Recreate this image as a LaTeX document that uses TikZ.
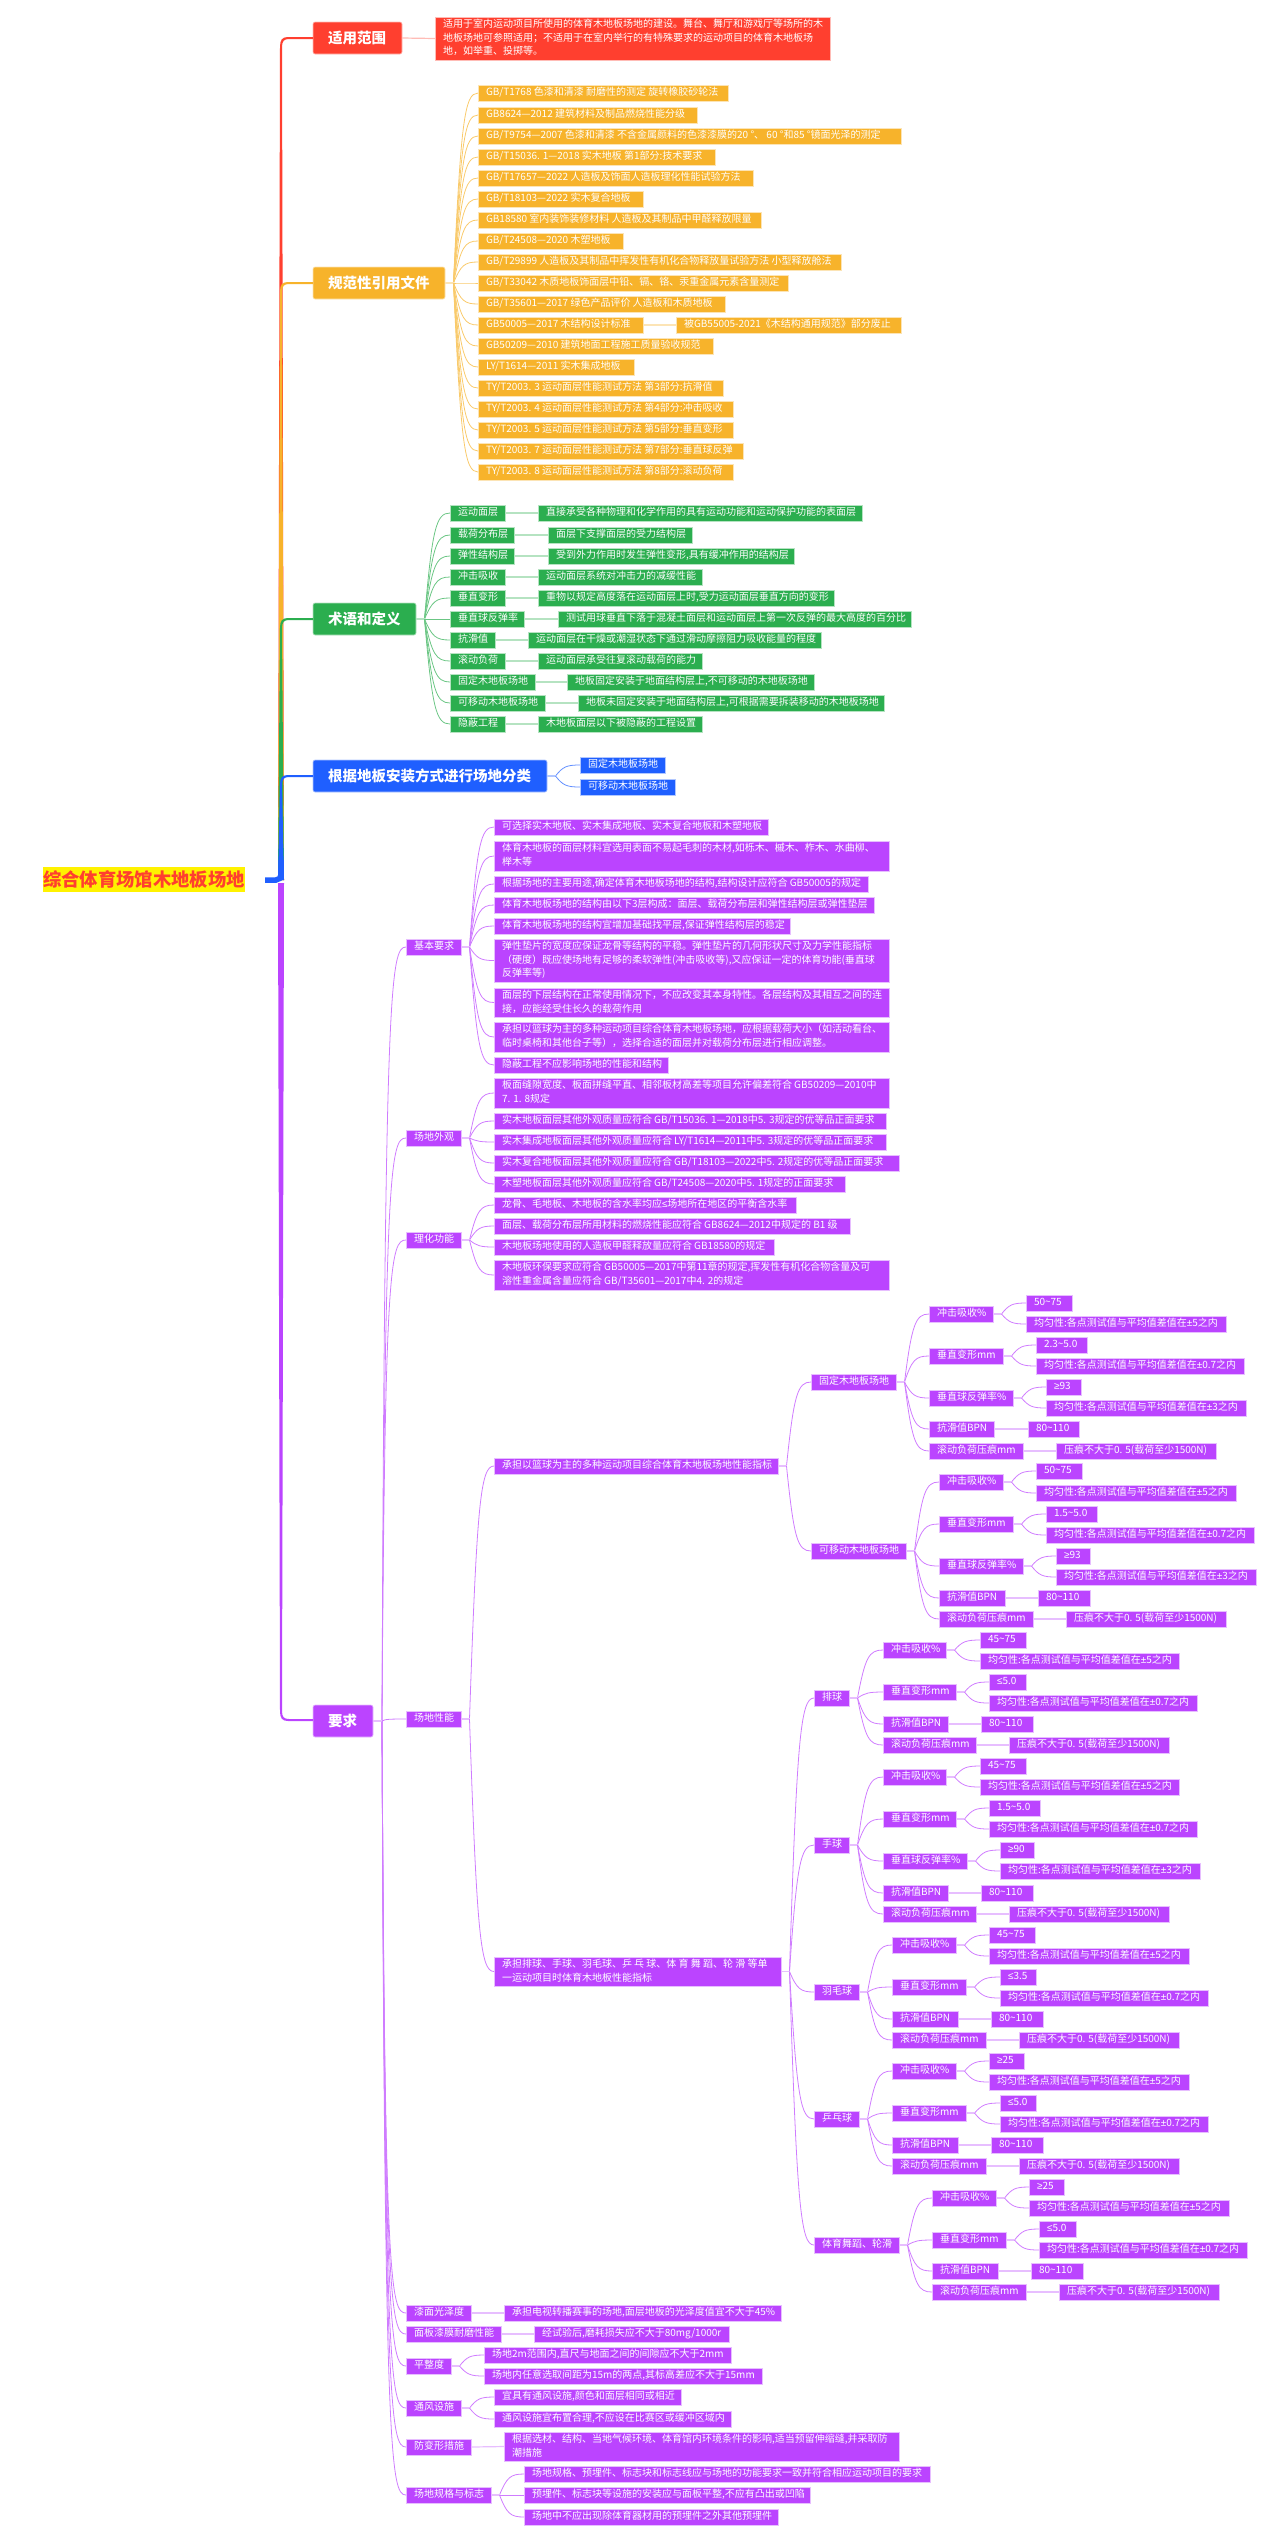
\documentclass[tikz,border=0pt]{standalone}
\usepackage{fontspec}
\setmainfont{Noto Sans CJK SC}
\newfontfamily\latf{Liberation Sans}
\usetikzlibrary{calc}
\definecolor{tred}{HTML}{FF3F2F}
\definecolor{torg}{HTML}{F7B32B}
\definecolor{tgrn}{HTML}{2BAE4F}
\definecolor{tblu}{HTML}{1F5FFF}
\definecolor{tpur}{HTML}{BB44FF}
\colorlet{cmain}{tred}\colorlet{clight}{tred!35!white}\colorlet{cfan}{tred!70!white}
\newcommand\setc[1]{\colorlet{cmain}{#1}\colorlet{clight}{#1!35!white}\colorlet{cfan}{#1!70!white}}
\tikzset{
  leaf/.style={fill=cmain,draw=clight,line width=.7pt,text=white,outer sep=0pt,inner ysep=0pt,inner xsep=8pt,font=\fontsize{10}{13.7}\selectfont},
  mainbox/.style={fill=cmain,draw=clight,line width=.6pt,rounded corners=2pt,text=white,outer sep=0pt,inner ysep=0pt,inner xsep=15pt,align=left,font=\fontsize{14.5}{16}\selectfont\bfseries},
  titlebox/.style={fill=yellow,text=tred,outer sep=0pt,inner sep=0pt,font=\fontsize{18.3}{20}\selectfont\bfseries},
  stubl/.style={draw=clight,line width=1.2pt},
  fanl/.style={draw=cfan,line width=.8pt}
}
\newcommand\bx[6]{%
  \pgfmathsetmacro\bw{#4-#2}\pgfmathsetmacro\bh{#5-#3}\pgfmathsetmacro\tw{#4-#2-16}%
  \node[leaf,anchor=north west,minimum width=\bw pt,minimum height=\bh pt] (#1) at (#2,#3) {\hbox to \tw pt{\begin{tabular}[c]{@{}l@{}}#6\end{tabular}\hss}};}
\newcommand\rw[5]{\bx{#1}{#2}{#3}{#4}{#3+16}{#5}}
\newcommand\mb[6]{%
  \pgfmathsetmacro\bw{#4-#2}\pgfmathsetmacro\bh{#5-#3}\pgfmathsetmacro\tw{#4-#2-30}%
  \node[mainbox,anchor=north west,minimum width=\bw pt,minimum height=\bh pt,text width=\tw pt] (#1) at (#2,#3) {#6};}
\newcommand\fanto[2]{%
  \draw[stubl] (#1.east) -- ++(8.5pt,0);
  \draw[fanl] let \p1=(#1.east),\p2=(#2.west),\n1={\x1+8.5pt},\n2={\x2-\x1-8.5pt},\n3={\y2-\y1} in
    (\n1,\y1) .. controls ({\n1+0.3*\n2},{\y1+0.85*\n3}) and ({\n1+0.45*\n2},\y2) .. (\x2,\y2);}
\newcommand\lk[2]{\draw[stubl] (#1.east) -- (#2.west);}
\newcommand\wirefive[2]{\foreach \kk in {1,2,3,4,5}{\fanto{#1}{#2\kk}}\foreach \kk in {1,2,3}{\fanto{#2\kk}{#2\kk v}\fanto{#2\kk}{#2\kk u}}\lk{#24}{#24v}\lk{#25}{#25v}}
\newcommand\wirefour[2]{\foreach \kk in {1,2,4,5}{\fanto{#1}{#2\kk}}\foreach \kk in {1,2}{\fanto{#2\kk}{#2\kk v}\fanto{#2\kk}{#2\kk u}}\lk{#24}{#24v}\lk{#25}{#25v}}
\newcommand\trunkup[2]{\fill[#1] let \p1=(#2.west),\p0=(rootend) in
  (278pt,\y0) -- (280pt,\y1-9pt) .. controls (280pt,\y1-2pt) and (282pt,\y1+1pt) .. (288pt,\y1+1pt) -- (\x1,\y1+1pt) -- (\x1,\y1-1pt) -- (289pt,\y1-1pt) .. controls (284pt,\y1-1pt) and (282pt,\y1-3pt) .. (282pt,\y1-9pt) -- (284pt,\y0) -- cycle;}
\newcommand\pmq{{\latf ±}}
\newcommand\gqq{{\latf ≥}}
\newcommand\lqq{{\latf ≤}}
\newcommand\tfive{均匀性:各点测试值与平均值差值在\pmq 5之内}
\newcommand\tseven{均匀性:各点测试值与平均值差值在\pmq 0.7之内}
\newcommand\tthree{均匀性:各点测试值与平均值差值在\pmq 3之内}
\newcommand\tpress{压痕不大于0. 5(载荷至少1500N)}
\newcommand\tld{\char"7E\relax}
\begin{document}
\begin{tikzpicture}[x=1pt,y=-1pt]
\useasboundingbox (0,0) rectangle (1280,2541);
% root
\node[titlebox,anchor=north west,minimum width=202pt,minimum height=25pt] (root) at (43,867) {综合体育场馆木地板场地};
\coordinate (rootend) at (265,880);
% main boxes
\setc{tred}\mb{A}{313}{22}{402}{54}{适用范围}
\setc{torg}\mb{B}{313}{267}{445}{299}{规范性引用文件}
\setc{tgrn}\mb{C}{313}{603}{416}{635}{术语和定义}
\setc{tblu}\mb{D}{313}{760}{547}{792}{根据地板安装方式进行场地分类}
\setc{tpur}\mb{E}{313}{1705}{373}{1737}{要求}
% trunk
\trunkup{tred}{A}\trunkup{torg}{B}\trunkup{tgrn}{C}\trunkup{tblu}{D}
\draw[tblu,line width=5.5pt,rounded corners=5pt] (rootend) -- (281,880) -- (281,860);
\fill[tpur] let \p1=(E.west) in (278,883) -- (284,883) -- (282,1711) .. controls (282,1717) and (284,1719) .. (289,1719) -- (\x1,1719) -- (\x1,1721) -- (288,1721) .. controls (282,1721) and (280,1718) .. (280,1711) -- cycle;
% A
\setc{tred}
\bx{a1}{435}{17}{830}{60}{适用于室内运动项目所使用的体育木地板场地的建设。舞台、舞厅和游戏厅等场所的木\\地板场地可参照适用；不适用于在室内举行的有特殊要求的运动项目的体育木地板场\\地，如举重、投掷等。}
\lk{A}{a1}
% B
\setc{torg}
\rw{b1}{478}{85}{728}{GB/T1768 色漆和清漆 耐磨性的测定 旋转橡胶砂轮法}
\rw{b2}{478}{107}{697}{GB8624—2012 建筑材料及制品燃烧性能分级}
\rw{b3}{478}{128}{901}{GB/T9754—2007 色漆和清漆 不含金属颜料的色漆漆膜的20 °、 60 °和85 °镜面光泽的测定}
\rw{b4}{478}{149}{715}{GB/T15036. 1—2018 实木地板 第1部分:技术要求}
\rw{b5}{478}{170}{753}{GB/T17657—2022 人造板及饰面人造板理化性能试验方法}
\rw{b6}{478}{191}{643}{GB/T18103—2022 实木复合地板}
\rw{b7}{478}{212}{761}{GB18580 室内装饰装修材料 人造板及其制品中甲醛释放限量}
\rw{b8}{478}{233}{623}{GB/T24508—2020 木塑地板}
\rw{b9}{478}{254}{841}{GB/T29899 人造板及其制品中挥发性有机化合物释放量试验方法 小型释放舱法}
\rw{b10}{478}{275}{788}{GB/T33042 木质地板饰面层中铅、镉、铬、汞重金属元素含量测定}
\rw{b11}{478}{296}{725}{GB/T35601—2017 绿色产品评价 人造板和木质地板}
\rw{b12}{478}{317}{643}{GB50005—2017 木结构设计标准}
\rw{b12x}{676}{317}{901}{被GB55005-2021《木结构通用规范》部分废止}
\rw{b13}{478}{338}{713}{GB50209—2010 建筑地面工程施工质量验收规范}
\rw{b14}{478}{359}{634}{LY/T1614—2011 实木集成地板}
\rw{b15}{478}{380}{723}{TY/T2003. 3 运动面层性能测试方法 第3部分:抗滑值}
\rw{b16}{478}{401}{733}{TY/T2003. 4 运动面层性能测试方法 第4部分:冲击吸收}
\rw{b17}{478}{422}{733}{TY/T2003. 5 运动面层性能测试方法 第5部分:垂直变形}
\rw{b18}{478}{443}{743}{TY/T2003. 7 运动面层性能测试方法 第7部分:垂直球反弹}
\rw{b19}{478}{464}{733}{TY/T2003. 8 运动面层性能测试方法 第8部分:滚动负荷}
\foreach \kk in {1,...,19}{\fanto{B}{b\kk}}
\lk{b12}{b12x}
% C
\setc{tgrn}
\rw{c1}{450}{505}{505}{运动面层}\rw{c1d}{538}{505}{862}{直接承受各种物理和化学作用的具有运动功能和运动保护功能的表面层}
\rw{c2}{450}{527}{514}{载荷分布层}\rw{c2d}{548}{527}{692}{面层下支撑面层的受力结构层}
\rw{c3}{450}{548}{514}{弹性结构层}\rw{c3d}{548}{548}{794}{受到外力作用时发生弹性变形,具有缓冲作用的结构层}
\rw{c4}{450}{569}{505}{冲击吸收}\rw{c4d}{538}{569}{702}{运动面层系统对冲击力的减缓性能}
\rw{c5}{450}{590}{505}{垂直变形}\rw{c5d}{538}{590}{834}{重物以规定高度落在运动面层上时,受力运动面层垂直方向的变形}
\rw{c6}{450}{611}{524}{垂直球反弹率}\rw{c6d}{558}{611}{911}{测试用球垂直下落于混凝土面层和运动面层上第一次反弹的最大高度的百分比}
\rw{c7}{450}{632}{495}{抗滑值}\rw{c7d}{528}{632}{821}{运动面层在干燥或潮湿状态下通过滑动摩擦阻力吸收能量的程度}
\rw{c8}{450}{653}{505}{滚动负荷}\rw{c8d}{538}{653}{702}{运动面层承受往复滚动载荷的能力}
\rw{c9}{450}{674}{535}{固定木地板场地}\rw{c9d}{567}{674}{814}{地板固定安装于地面结构层上,不可移动的木地板场地}
\rw{c10}{450}{695}{545}{可移动木地板场地}\rw{c10d}{578}{695}{884}{地板未固定安装于地面结构层上,可根据需要拆装移动的木地板场地}
\rw{c11}{450}{716}{505}{隐蔽工程}\rw{c11d}{538}{716}{702}{木地板面层以下被隐蔽的工程设置}
\foreach \kk in {1,...,11}{\fanto{C}{c\kk}\lk{c\kk}{c\kk d}}
% D
\setc{tblu}
\rw{d1}{580}{757}{665}{固定木地板场地}
\rw{d2}{580}{779}{675}{可移动木地板场地}
\fanto{D}{d1}\fanto{D}{d2}
% E level 2
\setc{tpur}
\rw{e1}{406}{939}{461}{基本要求}
\rw{e2}{406}{1130}{461}{场地外观}
\rw{e3}{406}{1232}{461}{理化功能}
\rw{e4}{406}{1711}{461}{场地性能}
\rw{e5}{406}{2305}{471}{漆面光泽度}
\rw{e6}{406}{2326}{501}{面板漆膜耐磨性能}
\rw{e7}{406}{2358}{451}{平整度}
\rw{e8}{406}{2400}{461}{通风设施}
\rw{e9}{406}{2439}{471}{防变形措施}
\rw{e10}{406}{2487}{491}{场地规格与标志}
\foreach \kk in {1,...,10}{\draw[stubl] (E.east) -- ++(9pt,0);
  \draw[fanl] let \p1=(E.east),\p2=(e\kk.west),\n1={\x1+9pt},\n2={\x2-\x1-9pt},\n3={\y2-\y1} in
    (\n1,\y1) .. controls ({\n1+0.12*\n2},{\y1+0.95*\n3}) and ({\n1+0.35*\n2},\y2) .. (\x2,\y2);}
% e1
\rw{e1a}{494}{819}{768}{可选择实木地板、实木集成地板、实木复合地板和木塑地板}
\bx{e1b}{494}{841}{889}{871}{体育木地板的面层材料宜选用表面不易起毛刺的木材,如栎木、槭木、柞木、水曲柳、\\榉木等}
\rw{e1c}{494}{876}{868}{根据场地的主要用途,确定体育木地板场地的结构,结构设计应符合 GB50005的规定}
\rw{e1d}{494}{897}{874}{体育木地板场地的结构由以下3层构成：面层、载荷分布层和弹性结构层或弹性垫层}
\rw{e1e}{494}{918}{790}{体育木地板场地的结构宜增加基础找平层,保证弹性结构层的稳定}
\bx{e1f}{494}{939}{889}{982}{弹性垫片的宽度应保证龙骨等结构的平稳。弹性垫片的几何形状尺寸及力学性能指标\\（硬度）既应使场地有足够的柔软弹性(冲击吸收等),又应保证一定的体育功能(垂直球\\反弹率等)}
\bx{e1g}{494}{988}{889}{1017}{面层的下层结构在正常使用情况下，不应改变其本身特性。各层结构及其相互之间的连\\接，应能经受住长久的载荷作用}
\bx{e1h}{494}{1022}{889}{1052}{承担以篮球为主的多种运动项目综合体育木地板场地，应根据载荷大小（如活动看台、\\临时桌椅和其他台子等），选择合适的面层并对载荷分布层进行相应调整。}
\rw{e1i}{494}{1057}{668}{隐蔽工程不应影响场地的性能和结构}
\foreach \kk in {a,b,c,d,e,f,g,h,i}{\fanto{e1}{e1\kk}}
% e2
\bx{e2a}{494}{1078}{889}{1108}{板面缝隙宽度、板面拼缝平直、相邻板材高差等项目允许偏差符合 GB50209—2010中\\7. 1. 8规定}
\rw{e2b}{494}{1113}{886}{实木地板面层其他外观质量应符合 GB/T15036. 1—2018中5. 3规定的优等品正面要求}
\rw{e2c}{494}{1134}{886}{实木集成地板面层其他外观质量应符合 LY/T1614—2011中5. 3规定的优等品正面要求}
\rw{e2d}{494}{1155}{899}{实木复合地板面层其他外观质量应符合 GB/T18103—2022中5. 2规定的优等品正面要求}
\rw{e2e}{494}{1176}{845}{木塑地板面层其他外观质量应符合 GB/T24508—2020中5. 1规定的正面要求}
\foreach \kk in {a,b,c,d,e}{\fanto{e2}{e2\kk}}
% e3
\rw{e3a}{494}{1197}{796}{龙骨、毛地板、木地板的含水率均应\lqq 场地所在地区的平衡含水率}
\rw{e3b}{494}{1218}{850}{面层、载荷分布层所用材料的燃烧性能应符合 GB8624—2012中规定的 B1 级}
\rw{e3c}{494}{1239}{774}{木地板场地使用的人造板甲醛释放量应符合 GB18580的规定}
\bx{e3d}{494}{1260}{889}{1290}{木地板环保要求应符合 GB50005—2017中第11章的规定,挥发性有机化合物含量及可\\溶性重金属含量应符合 GB/T35601—2017中4. 2的规定}
\foreach \kk in {a,b,c,d}{\fanto{e3}{e3\kk}}
% e4
\rw{ea}{494}{1458}{778}{承担以篮球为主的多种运动项目综合体育木地板场地性能指标}
\bx{eb}{494}{1957}{781}{1986}{承担排球、手球、羽毛球、乒 乓 球、体 育 舞 蹈、轮 滑 等单\\一运动项目时体育木地板性能指标}
\fanto{e4}{ea}\fanto{e4}{eb}
% fixed
\rw{fa}{811}{1374}{896}{固定木地板场地}
\rw{fa1}{929}{1306}{993}{冲击吸收\%}\rw{fa1v}{1026}{1295}{1072}{50\tld 75}\rw{fa1u}{1026}{1316}{1226}{\tfive}
\rw{fa2}{929}{1348}{1003}{垂直变形mm}\rw{fa2v}{1036}{1337}{1087}{2.3\tld 5.0}\rw{fa2u}{1036}{1358}{1244}{\tseven}
\rw{fa3}{929}{1390}{1013}{垂直球反弹率\%}\rw{fa3v}{1046}{1379}{1081}{\gqq 93}\rw{fa3u}{1046}{1400}{1246}{\tthree}
\rw{fa4}{929}{1421}{994}{抗滑值BPN}\rw{fa4v}{1028}{1421}{1079}{80\tld 110}
\rw{fa5}{929}{1443}{1023}{滚动负荷压痕mm}\rw{fa5v}{1056}{1443}{1216}{\tpress}
\wirefive{fa}{fa}
% movable
\rw{fb}{811}{1543}{906}{可移动木地板场地}
\rw{fb1}{939}{1474}{1003}{冲击吸收\%}\rw{fb1v}{1036}{1463}{1082}{50\tld 75}\rw{fb1u}{1036}{1485}{1236}{\tfive}
\rw{fb2}{939}{1516}{1013}{垂直变形mm}\rw{fb2v}{1046}{1506}{1097}{1.5\tld 5.0}\rw{fb2u}{1046}{1527}{1254}{\tseven}
\rw{fb3}{939}{1558}{1023}{垂直球反弹率\%}\rw{fb3v}{1056}{1548}{1090}{\gqq 93}\rw{fb3u}{1056}{1569}{1256}{\tthree}
\rw{fb4}{939}{1590}{1005}{抗滑值BPN}\rw{fb4v}{1038}{1590}{1090}{80\tld 110}
\rw{fb5}{939}{1611}{1033}{滚动负荷压痕mm}\rw{fb5v}{1066}{1611}{1226}{\tpress}
\wirefive{fb}{fb}
\fanto{ea}{fa}\fanto{ea}{fb}
% volleyball
\rw{p}{814}{1690}{849}{排球}
\rw{p1}{883}{1642}{946}{冲击吸收\%}\rw{p1v}{980}{1632}{1026}{45\tld 75}\rw{p1u}{980}{1653}{1179}{\tfive}
\rw{p2}{883}{1684}{956}{垂直变形mm}\rw{p2v}{989}{1674}{1026}{\lqq 5.0}\rw{p2u}{989}{1695}{1197}{\tseven}
\rw{p4}{883}{1716}{948}{抗滑值BPN}\rw{p4v}{981}{1716}{1033}{80\tld 110}
\rw{p5}{883}{1737}{976}{滚动负荷压痕mm}\rw{p5v}{1009}{1737}{1169}{\tpress}
\wirefour{p}{p}
% handball
\rw{q}{814}{1837}{849}{手球}
\rw{q1}{883}{1769}{946}{冲击吸收\%}\rw{q1v}{980}{1758}{1026}{45\tld 75}\rw{q1u}{980}{1779}{1179}{\tfive}
\rw{q2}{883}{1811}{956}{垂直变形mm}\rw{q2v}{989}{1800}{1040}{1.5\tld 5.0}\rw{q2u}{989}{1821}{1197}{\tseven}
\rw{q3}{883}{1853}{967}{垂直球反弹率\%}\rw{q3v}{1000}{1842}{1034}{\gqq 90}\rw{q3u}{1000}{1863}{1200}{\tthree}
\rw{q4}{883}{1885}{948}{抗滑值BPN}\rw{q4v}{981}{1885}{1033}{80\tld 110}
\rw{q5}{883}{1906}{976}{滚动负荷压痕mm}\rw{q5v}{1009}{1906}{1169}{\tpress}
\wirefive{q}{q}
% badminton
\rw{r}{814}{1984}{859}{羽毛球}
\rw{r1}{892}{1937}{956}{冲击吸收\%}\rw{r1v}{989}{1927}{1035}{45\tld 75}\rw{r1u}{989}{1948}{1189}{\tfive}
\rw{r2}{892}{1979}{966}{垂直变形mm}\rw{r2v}{1000}{1969}{1036}{\lqq 3.5}\rw{r2u}{1000}{1990}{1208}{\tseven}
\rw{r4}{892}{2011}{958}{抗滑值BPN}\rw{r4v}{991}{2011}{1043}{80\tld 110}
\rw{r5}{892}{2032}{986}{滚动负荷压痕mm}\rw{r5v}{1019}{2032}{1179}{\tpress}
\wirefour{r}{r}
% table tennis
\rw{s}{814}{2111}{859}{乒乓球}
\rw{s1}{892}{2063}{956}{冲击吸收\%}\rw{s1v}{989}{2053}{1024}{\gqq 25}\rw{s1u}{989}{2074}{1189}{\tfive}
\rw{s2}{892}{2105}{966}{垂直变形mm}\rw{s2v}{1000}{2095}{1036}{\lqq 5.0}\rw{s2u}{1000}{2116}{1208}{\tseven}
\rw{s4}{892}{2137}{958}{抗滑值BPN}\rw{s4v}{991}{2137}{1043}{80\tld 110}
\rw{s5}{892}{2158}{986}{滚动负荷压痕mm}\rw{s5v}{1019}{2158}{1179}{\tpress}
\wirefour{s}{s}
% dance
\rw{t}{814}{2237}{899}{体育舞蹈、轮滑}
\rw{t1}{932}{2190}{996}{冲击吸收\%}\rw{t1v}{1029}{2179}{1064}{\gqq 25}\rw{t1u}{1029}{2200}{1229}{\tfive}
\rw{t2}{932}{2232}{1006}{垂直变形mm}\rw{t2v}{1039}{2221}{1076}{\lqq 5.0}\rw{t2u}{1039}{2242}{1247}{\tseven}
\rw{t4}{932}{2263}{998}{抗滑值BPN}\rw{t4v}{1031}{2263}{1083}{80\tld 110}
\rw{t5}{932}{2284}{1026}{滚动负荷压痕mm}\rw{t5v}{1059}{2284}{1219}{\tpress}
\wirefour{t}{t}
\foreach \kk in {p,q,r,s,t}{\fanto{eb}{\kk}}
% e5..e10
\rw{e5a}{504}{2305}{781}{承担电视转播赛事的场地,面层地板的光泽度值宜不大于45\%}\lk{e5}{e5a}
\rw{e6a}{534}{2326}{729}{经试验后,磨耗损失应不大于80mg/1000r}\lk{e6}{e6a}
\rw{e7a}{484}{2347}{731}{场地2m范围内,直尺与地面之间的间隙应不大于2mm}
\rw{e7b}{484}{2368}{762}{场地内任意选取间距为15m的两点,其标高差应不大于15mm}
\fanto{e7}{e7a}\fanto{e7}{e7b}
\rw{e8a}{494}{2389}{681}{宜具有通风设施,颜色和面层相同或相近}
\rw{e8b}{494}{2411}{731}{通风设施宜布置合理,不应设在比赛区或缓冲区域内}
\fanto{e8}{e8a}\fanto{e8}{e8b}
\bx{e9a}{504}{2432}{899}{2461}{根据选材、结构、当地气候环境、体育馆内环境条件的影响,适当预留伸缩缝,并采取防\\潮措施}\lk{e9}{e9a}
\rw{e10a}{524}{2466}{930}{场地规格、预埋件、标志块和标志线应与场地的功能要求一致并符合相应运动项目的要求}
\rw{e10b}{524}{2487}{810}{预埋件、标志块等设施的安装应与面板平整,不应有凸出或凹陷}
\rw{e10c}{524}{2509}{778}{场地中不应出现除体育器材用的预埋件之外其他预埋件}
\fanto{e10}{e10a}\fanto{e10}{e10b}\fanto{e10}{e10c}
\end{tikzpicture}
\end{document}
